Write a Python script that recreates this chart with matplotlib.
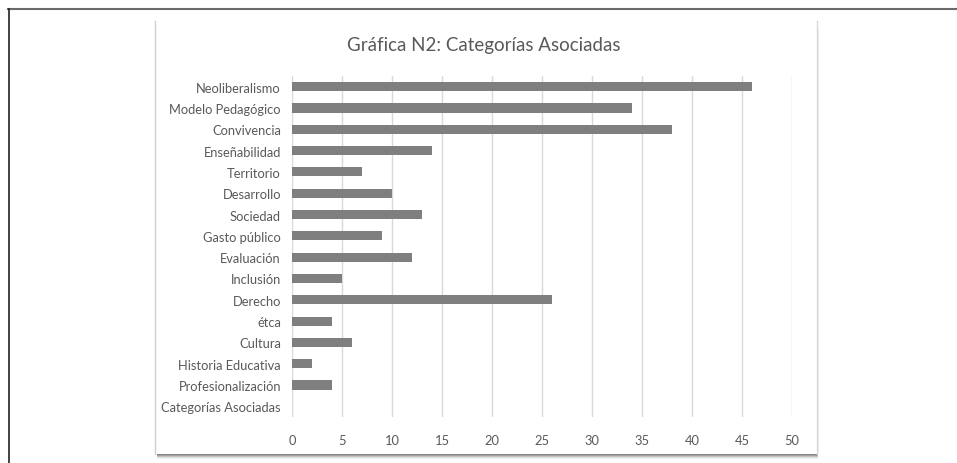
import matplotlib
matplotlib.use("Agg")
import matplotlib.pyplot as plt
from matplotlib.patches import Rectangle
from matplotlib.lines import Line2D

categories = ["Neoliberalismo", "Modelo Pedagógico", "Convivencia", "Enseñabilidad",
              "Territorio", "Desarrollo", "Sociedad", "Gasto público", "Evaluación",
              "Inclusión", "Derecho", "étca", "Cultura", "Historia Educativa",
              "Profesionalización", "Categorías Asociadas"]
values = [46, 34, 38, 14, 7, 10, 13, 9, 12, 5, 26, 4, 6, 2, 4, 0]
xticks = [0, 5, 10, 15, 20, 25, 30, 35, 40, 45, 50]
title = "Gráfica N2: Categorías Asociadas"

plt.rcParams['font.family'] = ['Lato', 'DejaVu Sans']

W, H = 957, 464
fig = plt.figure(figsize=(W/100, H/100), dpi=100)
fig.patch.set_facecolor("white")

def fx(px): return px / W
def fy(py): return 1 - py / H

# outer frame lines
fig.add_artist(Line2D([fx(8), fx(957)], [fy(9.5), fy(9.5)], color="#6a6a6a", lw=1.5))
fig.add_artist(Line2D([fx(8.5), fx(8.5)], [fy(9.5), fy(464)], color="#222222", lw=1.2))

# inner chart box with shadow
for i, a in enumerate([0.7, 0.55, 0.35, 0.18, 0.08]):
    fig.add_artist(Rectangle((fx(157), fy(455 + i + 1)), fx(818 - 157), fy(0) - fy(1),
                             facecolor="#555555", alpha=a, edgecolor="none", zorder=0))
for i, a in enumerate([0.25, 0.12]):
    fig.add_artist(Rectangle((fx(817 + i), fy(455)), fx(1), fy(30) - fy(455),
                             facecolor="#777777", alpha=a, edgecolor="none", zorder=0))
fig.add_artist(Rectangle((fx(154), fy(455)), fx(817 - 154), fy(22) - fy(455),
                         facecolor="white", edgecolor="none", zorder=1))
fig.add_artist(Line2D([fx(154.5), fx(154.5)], [fy(22), fy(455)], color="#d0d0d0", lw=1.0, zorder=1.5))
fig.add_artist(Line2D([fx(816.5), fx(816.5)], [fy(22), fy(455)], color="#d8d8d8", lw=1.0, zorder=1.5))

ax = fig.add_axes([fx(292), fy(418), fx(792) - fx(292), fy(77) - fy(418)])
ax.set_zorder(2)
ax.patch.set_alpha(0)
n = len(categories)
pos = list(range(n))
ax.barh(pos, values, height=0.43, color="#7f7f7f", zorder=3)
ax.set_ylim(n - 0.5, -0.5)
ax.set_xlim(0, 50)
ax.set_xticks(xticks)
ax.set_xticklabels([str(t) for t in xticks])
ax.set_yticks(pos)
ax.set_yticklabels(categories)
for s in ax.spines.values():
    s.set_visible(False)
ax.grid(axis="x", color="#d9d9d9", lw=1.0, zorder=0)
ax.tick_params(axis="both", length=0, labelcolor="#595959", labelsize=9.3)
ax.tick_params(axis="x", pad=12)
ax.tick_params(axis="y", pad=8)

fig.text(fx(484), fy(46), title, ha="center", va="center", fontsize=13.5, color="#595959")

fig.savefig("out.png", dpi=100)
